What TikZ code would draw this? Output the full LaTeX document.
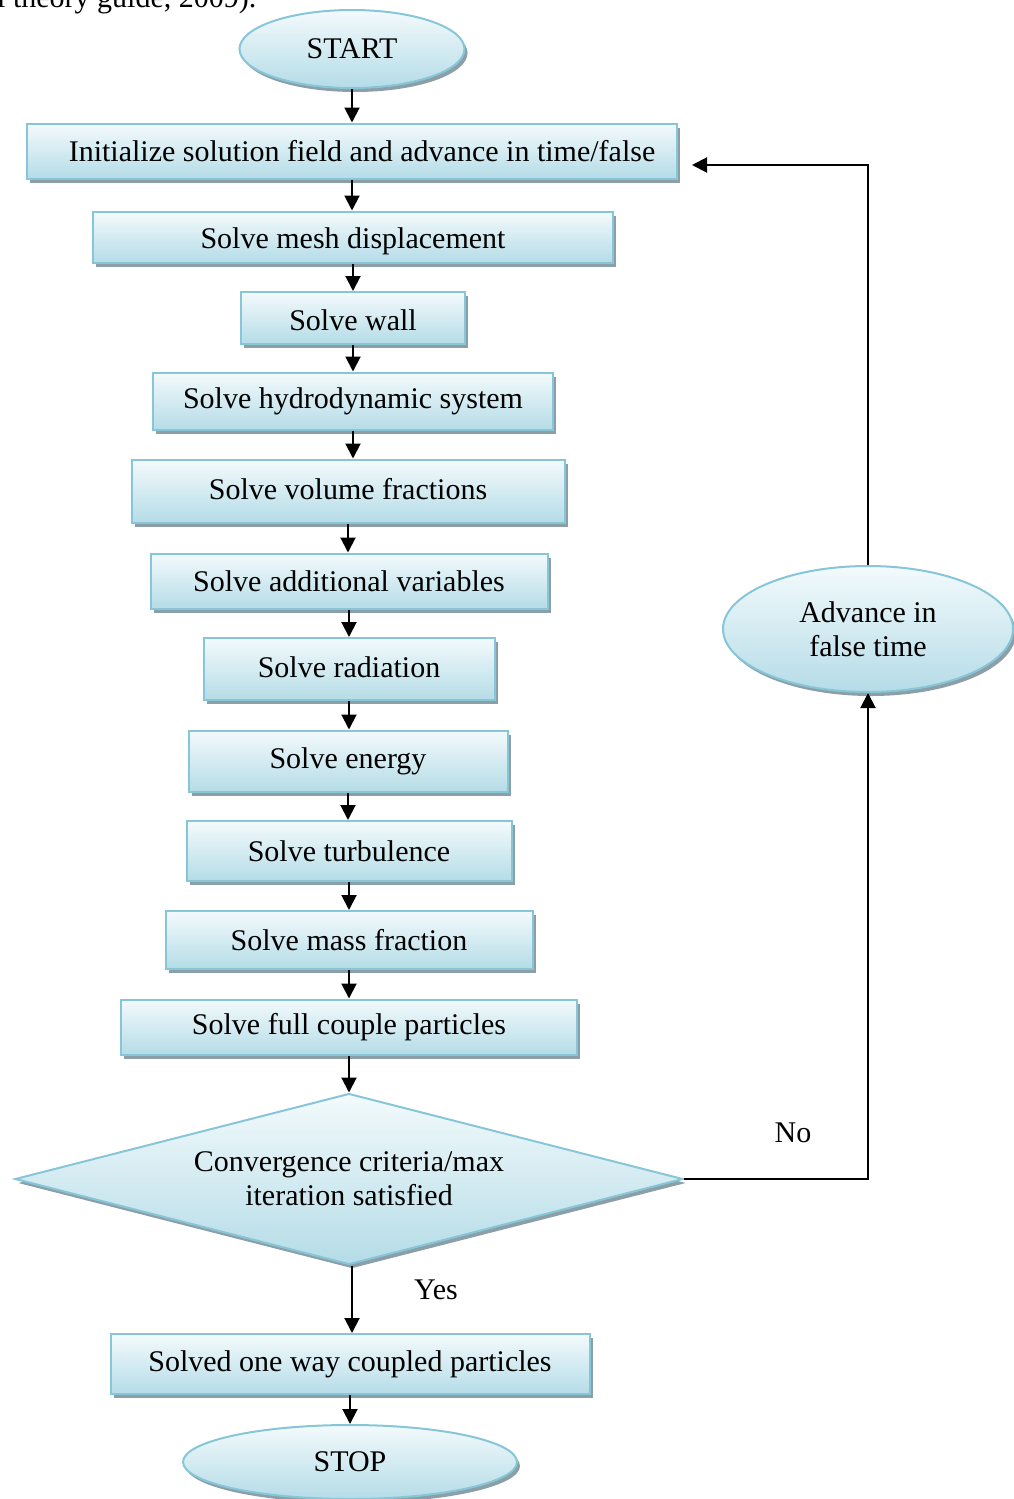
\documentclass[tikz,border=0pt]{standalone}
\usepackage{fontspec}
\setmainfont{Liberation Serif}
\usetikzlibrary{shapes.geometric,shadows,arrows.meta}
\definecolor{bordc}{RGB}{135,198,216}
\definecolor{topc}{RGB}{243,250,252}
\definecolor{botc}{RGB}{181,220,231}
\definecolor{shadc}{RGB}{140,158,166}
\begin{document}
\begin{tikzpicture}[x=1pt,y=-1pt,
 base/.style={draw=bordc, line width=2pt, top color=topc, bottom color=botc,
   drop shadow={shadow xshift=3pt, shadow yshift=-4pt, fill=shadc, opacity=1},
   font=\fontsize{30}{34}\selectfont, align=center, inner sep=0pt},
 box/.style={base, rectangle},
 oval/.style={base, ellipse},
 dec/.style={base, diamond, aspect=3.9},
 arr/.style={line width=2pt, -{Triangle[length=15pt,width=15pt]}},
 lbl/.style={font=\fontsize{30}{34}\selectfont, inner sep=0pt}]
\useasboundingbox (0,0) rectangle (1014,1499);
\clip (0,0) rectangle (1014,1499);
\node[lbl, anchor=base west] (cite) at (-3,8) {l theory guide, 2009).};
\node[oval, minimum width=225pt, minimum height=78pt] (start) at (352,49) {START};
\node[box, minimum width=650pt, minimum height=55pt] (b1) at (352,151) {\hspace*{20pt}Initialize solution field and advance in time/false};
\node[box, minimum width=520pt, minimum height=51pt] (b2) at (353,237) {\raisebox{-4pt}[\height][\depth]{Solve mesh displacement}};
\node[box, minimum width=224pt, minimum height=52pt] (b3) at (353,318) {\raisebox{-2pt}[\height][\depth]{Solve wall}};
\node[box, minimum width=400pt, minimum height=57pt] (b4) at (353,401) {Solve hydrodynamic system};
\node[box, minimum width=433pt, minimum height=63pt] (b5) at (348,491) {\raisebox{2pt}[\height][\depth]{Solve volume fractions}};
\node[box, minimum width=397pt, minimum height=55pt] (b6) at (349,581) {Solve additional variables};
\node[box, minimum width=291pt, minimum height=62pt] (b7) at (349,669) {\raisebox{2pt}[\height][\depth]{Solve radiation}};
\node[box, minimum width=319pt, minimum height=61pt] (b8) at (348,761) {Solve energy};
\node[box, minimum width=325pt, minimum height=60pt] (b9) at (349,851) {Solve turbulence};
\node[box, minimum width=367pt, minimum height=58pt] (b10) at (349,940) {Solve mass fraction};
\node[box, minimum width=456pt, minimum height=55pt] (b11) at (349,1027) {Solve full couple particles};
\node[dec, minimum width=668pt, minimum height=171pt] (dia) at (349,1179) {Convergence criteria/max\\iteration satisfied};
\node[box, minimum width=479pt, minimum height=60pt] (b12) at (350,1364) {Solved one way coupled particles};
\node[oval, minimum width=334pt, minimum height=74pt] (stop) at (350,1462) {STOP};
\node[oval, minimum width=290pt, minimum height=126pt] (adv) at (868,629) {Advance in\\false time};
\node[lbl] (no) at (793,1133) {No};
\node[lbl] (yes) at (436,1290) {Yes};
\coordinate (ret) at (692,165);
\draw[arr] (start.south) -- (start.south |- b1.north);
\draw[arr] (b1.south) -- (b1.south |- b2.north);
\draw[arr] (b2.south) -- (b2.south |- b3.north);
\draw[arr] (b3.south) -- (b3.south |- b4.north);
\draw[arr] (b4.south) -- (b4.south |- b5.north);
\draw[arr] (b5.south) -- (b5.south |- b6.north);
\draw[arr] (b6.south) -- (b6.south |- b7.north);
\draw[arr] (b7.south) -- (b7.south |- b8.north);
\draw[arr] (b8.south) -- (b8.south |- b9.north);
\draw[arr] (b9.south) -- (b9.south |- b10.north);
\draw[arr] (b10.south) -- (b10.south |- b11.north);
\draw[arr] (b11.south) -- (b11.south |- dia.north);
\draw[arr] ([xshift=3pt]dia.south) -- ([xshift=3pt]dia.south |- b12.north);
\draw[arr] (b12.south) -- (b12.south |- stop.north);
\draw[arr] (dia.east) -| (adv.south);
\draw[arr] (adv.north) |- (ret);
\end{tikzpicture}
\end{document}
